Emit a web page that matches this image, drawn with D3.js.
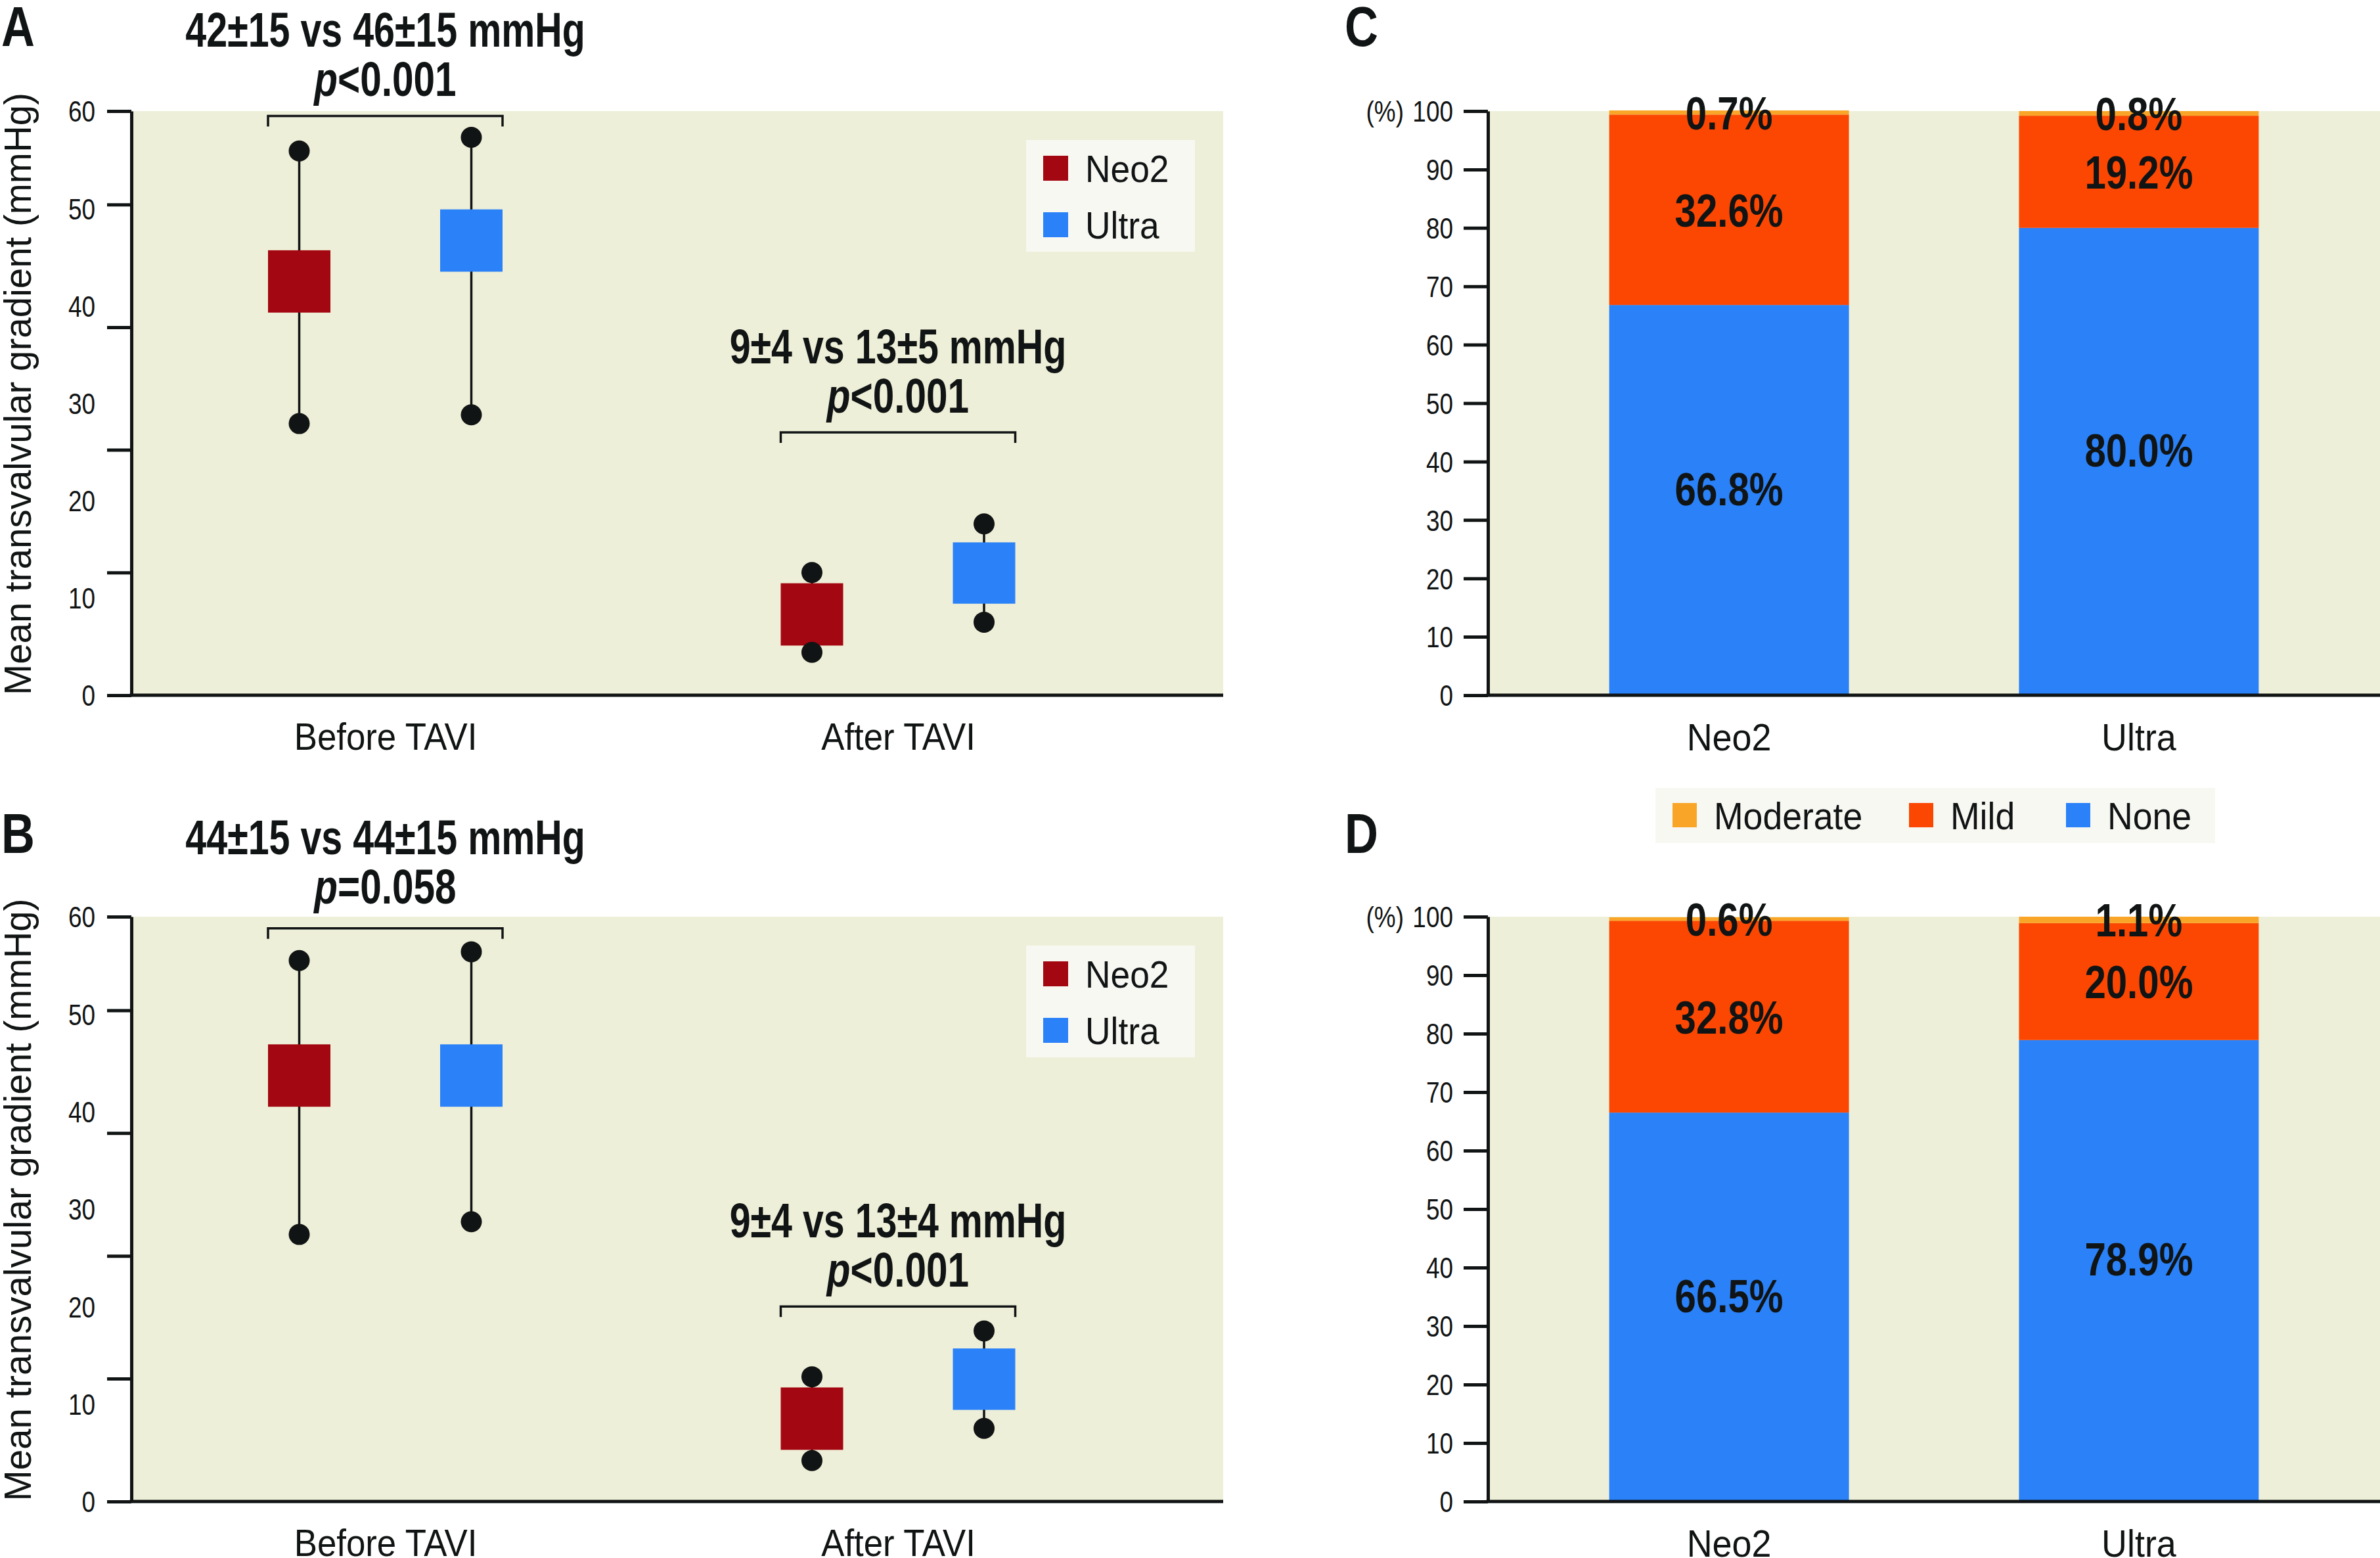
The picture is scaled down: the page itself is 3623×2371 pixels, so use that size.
<!DOCTYPE html>
<html><head><meta charset="utf-8">
<script src="https://cdn.jsdelivr.net/npm/d3@7"></script>
<style>html,body{margin:0;padding:0;background:#fff}svg{display:block}</style>
</head><body>
<script>
// ---------------- DATA ----------------
const groups = ["Before TAVI", "After TAVI"];
const valves = ["Neo2", "Ultra"];
// per group: [lower whisker, box low, box high, upper whisker] (mmHg)
const gradA_Neo2  = [[27.9, 39.3, 45.7, 55.9], [4.4, 5.1, 11.5, 12.6]];
const gradA_Ultra = [[28.8, 43.5, 49.9, 57.3], [7.5, 9.4, 15.7, 17.6]];
const gradB_Neo2  = [[27.4, 40.5, 46.9, 55.5], [4.2, 5.3, 11.7, 12.8]];
const gradB_Ultra = [[28.7, 40.5, 46.9, 56.4], [7.5, 9.4, 15.7, 17.5]];
const annotA_text = ["42±15 vs 46±15 mmHg", "9±4 vs 13±5 mmHg"];
const annotA_p    = ["<0.001", "<0.001"];
const annotB_text = ["44±15 vs 44±15 mmHg", "9±4 vs 13±4 mmHg"];
const annotB_p    = ["=0.058", "<0.001"];
const bracketA = [59.5, 27.0];   // bracket level (mmHg)
const bracketB = [58.8, 20.0];
const gradTickLabels = [0, 10, 20, 30, 40, 50, 60];
const gradTickMarks  = [0, 12.6, 25.2, 37.8, 50.4, 60];

const cats = ["Neo2", "Ultra"];
const severity = ["None", "Mild", "Moderate"];
const legendOrder = ["Moderate", "Mild", "None"];
const pvlC_None = [66.8, 80.0], pvlC_Mild = [32.6, 19.2], pvlC_Moderate = [0.7, 0.8];
const pvlD_None = [66.5, 78.9], pvlD_Mild = [32.8, 20.0], pvlD_Moderate = [0.6, 1.1];
const pctTicks = [0, 10, 20, 30, 40, 50, 60, 70, 80, 90, 100];

// ---------------- STYLE / LAYOUT ----------------
const W = 3623, H = 2371;
const INK = "#111414", BG = "#EEEFD8", LEGBG = "#F8F8F3";
const valveColor = {Neo2: "#A30711", Ultra: "#2A81F8"};
const sevColor = {None: "#2A81F8", Mild: "#FC4703", Moderate: "#F9A628"};
const FONT = "'Liberation Sans', Arial, Helvetica, sans-serif";

const L = {
  A: {x0: 200, x1: 1862, y0: 169, y1: 1058, letterX: 2, letterY: 70, shift: [0, 0]},
  B: {x0: 200, x1: 1862, y0: 1395, y1: 2285, letterX: 2, letterY: 1298, shift: [8, 0]},
  C: {x0: 2265, x1: 3623, y0: 169, y1: 1058, letterX: 2047, letterY: 70},
  D: {x0: 2265, x1: 3623, y0: 1395, y1: 2285, letterX: 2047, letterY: 1298}
};

const svg = d3.select("body").append("svg").attr("width", W).attr("height", H)
  .attr("font-family", FONT);
svg.append("rect").attr("width", W).attr("height", H).attr("fill", "#fff");

function ctext(g, x, y, str, o) {
  const t = g.append("text")
    .attr("transform", `translate(${x},${y}) scale(${o.sx || 1},1)`)
    .attr("text-anchor", o.anchor || "middle")
    .attr("font-size", o.size).attr("font-weight", o.weight || "normal")
    .attr("fill", INK);
  if (o.dy) t.attr("dy", o.dy);
  if (str !== null) t.text(str);
  return t;
}

function letter(P, s) {
  ctext(svg, P.letterX, P.letterY, s, {size: 86, weight: "bold", sx: 0.82, anchor: "start"});
}

function drawGradient(P, neo, ultra, annText, annP, brackets, let_) {
  const g = svg.append("g");
  const y = d3.scaleLinear().domain([0, 60]).range([P.y1, P.y0]);
  const x = d3.scalePoint().domain(groups).range([P.x0 + 386.5, P.x0 + 1167]);
  const off = d3.scalePoint().domain(valves).range([-131, 131]);
  const bw = 95;
  g.append("rect").attr("x", P.x0).attr("y", P.y0).attr("width", P.x1 - P.x0)
    .attr("height", P.y1 - P.y0).attr("fill", BG);

  // boxes
  const series = {Neo2: neo, Ultra: ultra};
  valves.forEach(v => {
    groups.forEach((gr, i) => {
      const s = series[v][i];
      const cx = x(gr) + off(v);
      g.append("line").attr("x1", cx).attr("x2", cx).attr("y1", y(s[0])).attr("y2", y(s[3]))
        .attr("stroke", INK).attr("stroke-width", 3.5);
      g.append("rect").attr("x", cx - bw / 2).attr("y", y(s[2])).attr("width", bw)
        .attr("height", y(s[1]) - y(s[2])).attr("fill", valveColor[v]);
      [s[0], s[3]].forEach(val => g.append("circle").attr("cx", cx).attr("cy", y(val))
        .attr("r", 16).attr("fill", INK));
    });
  });

  // brackets & annotations
  groups.forEach((gr, i) => {
    const yb = y(brackets[i]);
    const xl = x(gr) + off("Neo2") - bw / 2, xr = x(gr) + off("Ultra") + bw / 2;
    g.append("path").attr("d", `M${xl},${yb + 16}V${yb}H${xr}V${yb + 16}`)
      .attr("fill", "none").attr("stroke", INK).attr("stroke-width", 3.5);
    const sh = P.shift[i];
    ctext(g, x(gr), yb - 105 - sh, annText[i], {size: 75, weight: "bold", sx: 0.765});
    const t = ctext(g, x(gr), yb - 30 - sh, null, {size: 75, weight: "bold", sx: 0.78});
    t.append("tspan").attr("font-style", "italic").text("p");
    t.append("tspan").text(annP[i]);
  });

  // y axis: tick marks
  g.append("g").attr("transform", `translate(${P.x0},0)`)
    .call(d3.axisLeft(y).tickValues(gradTickMarks).tickSize(37).tickSizeOuter(0).tickFormat(""))
    .call(a => {
      a.select(".domain").attr("stroke", INK).attr("stroke-width", 5);
      a.selectAll(".tick line").attr("stroke", INK).attr("stroke-width", 5);
    });
  // y axis: labels
  g.append("g").attr("transform", `translate(${P.x0},0)`)
    .call(d3.axisLeft(y).tickValues(gradTickLabels).tickSize(0).tickPadding(0))
    .call(a => {
      a.select(".domain").remove();
      a.attr("font-size", 44).attr("font-family", FONT);
      a.selectAll("text").attr("x", 0).attr("dy", "0.36em").attr("fill", INK)
        .attr("transform", "translate(-55,0) scale(0.84,1)");
    });
  // x axis baseline + labels
  g.append("line").attr("x1", P.x0 - 2.5).attr("x2", P.x1).attr("y1", P.y1).attr("y2", P.y1)
    .attr("stroke", INK).attr("stroke-width", 5);
  g.append("g").attr("transform", `translate(0,${P.y1})`)
    .call(d3.axisBottom(x).tickSize(0))
    .call(a => {
      a.select(".domain").remove();
      a.attr("font-size", 58).attr("font-family", FONT);
      a.selectAll("text").attr("y", 0).attr("dy", 0).attr("fill", INK)
        .attr("transform", "translate(0,83) scale(0.91,1)");
    });

  // y title
  g.append("text").attr("transform", `translate(47,${(P.y0 + P.y1) / 2 - 14}) rotate(-90)`)
    .attr("text-anchor", "middle").attr("font-size", 56.5).attr("fill", INK)
    .text("Mean transvalvular gradient (mmHg)");

  // legend
  const lg = g.append("g").attr("transform", `translate(1562,${P.y0 + 44})`);
  lg.append("rect").attr("width", 257).attr("height", 170).attr("fill", LEGBG);
  valves.forEach((v, i) => {
    const cy = 43 + i * 86;
    lg.append("rect").attr("x", 26).attr("y", cy - 19).attr("width", 38).attr("height", 38)
      .attr("fill", valveColor[v]);
    ctext(lg, 90, cy, v, {size: 58, sx: 0.92, anchor: "start", dy: "0.36em"});
  });

  letter(P, let_);
}

function drawStack(P, none, mild, moderate, let_) {
  const g = svg.append("g");
  const rows = cats.map((c, i) => ({cat: c, None: none[i], Mild: mild[i], Moderate: moderate[i]}));
  const layers = d3.stack().keys(severity)(rows);
  const x = d3.scaleBand().domain(cats).range([P.x0, P.x1]).paddingInner(0.415).paddingOuter(0.296);
  const y = d3.scaleLinear().domain([0, 100]).range([P.y1, P.y0]);

  g.append("rect").attr("x", P.x0).attr("y", P.y0).attr("width", P.x1 - P.x0)
    .attr("height", P.y1 - P.y0).attr("fill", BG);

  layers.forEach(layer => {
    g.append("g").selectAll("rect").data(layer).join("rect")
      .attr("x", d => x(d.data.cat)).attr("width", x.bandwidth())
      .attr("y", d => y(d[1])).attr("height", d => y(d[0]) - y(d[1]))
      .attr("fill", sevColor[layer.key]);
  });
  layers.forEach(layer => {
    layer.forEach(d => {
      const cy = y((d[0] + d[1]) / 2) + (layer.key === "None" ? -18 : 0);
      ctext(g, x(d.data.cat) + x.bandwidth() / 2, cy, d.data[layer.key].toFixed(1) + "%",
        {size: 71, weight: "bold", sx: 0.82, dy: "0.36em"});
    });
  });

  g.append("g").attr("transform", `translate(${P.x0},0)`)
    .call(d3.axisLeft(y).tickValues(pctTicks).tickSize(37).tickSizeOuter(0).tickPadding(0))
    .call(a => {
      a.select(".domain").attr("stroke", INK).attr("stroke-width", 5);
      a.selectAll(".tick line").attr("stroke", INK).attr("stroke-width", 5);
      a.attr("font-size", 44).attr("font-family", FONT);
      a.selectAll("text").attr("x", 0).attr("dy", "0.36em").attr("fill", INK)
        .attr("transform", "translate(-53,0) scale(0.84,1)");
    });
  ctext(g, P.x0 - 128, y(100), "(%)", {size: 44, sx: 0.84, anchor: "end", dy: "0.36em"});

  g.append("line").attr("x1", P.x0 - 2.5).attr("x2", P.x1).attr("y1", P.y1).attr("y2", P.y1)
    .attr("stroke", INK).attr("stroke-width", 5);
  g.append("g").attr("transform", `translate(0,${P.y1})`)
    .call(d3.axisBottom(x).tickSize(0))
    .call(a => {
      a.select(".domain").remove();
      a.attr("font-size", 58).attr("font-family", FONT);
      a.selectAll("text").attr("y", 0).attr("dy", 0).attr("fill", INK)
        .attr("transform", "translate(0,84) scale(0.93,1)");
    });
  letter(P, let_);
}

drawGradient(L.A, gradA_Neo2, gradA_Ultra, annotA_text, annotA_p, bracketA, "A");
drawGradient(L.B, gradB_Neo2, gradB_Ultra, annotB_text, annotB_p, bracketB, "B");
drawStack(L.C, pvlC_None, pvlC_Mild, pvlC_Moderate, "C");
drawStack(L.D, pvlD_None, pvlD_Mild, pvlD_Moderate, "D");

// shared legend for C/D
const lg = svg.append("g").attr("transform", "translate(2520,1199)");
lg.append("rect").attr("width", 852).attr("height", 84).attr("fill", LEGBG);
const legOffsets = {Moderate: 26, Mild: 386, None: 625};
legendOrder.forEach(k => {
  const x0 = legOffsets[k];
  lg.append("rect").attr("x", x0).attr("y", 23).attr("width", 37).attr("height", 37).attr("fill", sevColor[k]);
  ctext(lg, x0 + 63, 42, k, {size: 57, sx: 0.94, anchor: "start", dy: "0.36em"});
});
</script>
</body></html>
